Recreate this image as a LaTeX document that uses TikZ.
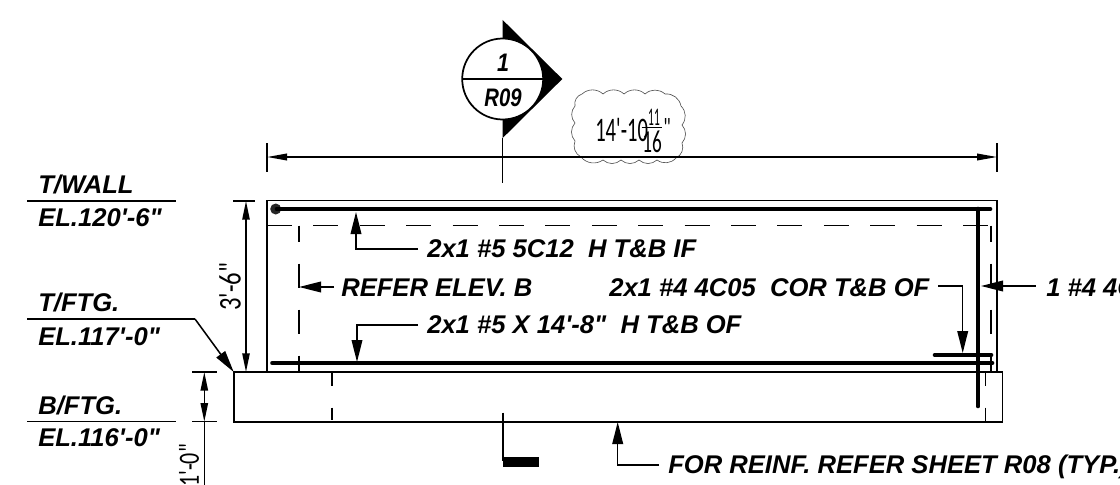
\documentclass[tikz,border=0pt]{standalone}
\usepackage{graphicx}
\usepackage{fontspec}
\setmainfont[Ligatures=TeXOff]{Liberation Sans}
\newfontfamily\thinfont[Ligatures=TeXOff]{Carlito}
\usetikzlibrary{arrows.meta}
\newcommand{\thintext}[3]{\scalebox{#2}[1]{\fontsize{#1}{#1}\selectfont #3}}
\tikzset{
 lab/.style={font=\fontsize{19.2pt}{22pt}\selectfont\bfseries\itshape,anchor=base west,inner sep=0pt,text=black},
 seclab/.style={font=\fontsize{19pt}{20pt}\selectfont\bfseries\itshape,anchor=base,inner sep=0pt,text=black},
 thinlab/.style={font=\thinfont,inner sep=0pt,text=black},
 ln/.style={line width=1.15pt,black},
 thn/.style={line width=1pt,black},
 bar/.style={line width=3.5pt,line cap=round,black},
 dshh/.style={line width=1pt,dash pattern=on 18.8pt off 16pt,black},
 dshv/.style={line width=1pt,dash pattern=on 18pt off 16.5pt,dash phase=6pt,black},
 lead/.style={ln,-{Triangle[length=16.5pt,width=8pt]}},
 smalltip/.style={ln,{Triangle[length=14pt,width=5.5pt]}-{Triangle[length=14pt,width=5.5pt]}},
 cloudline/.style={line width=0.45pt,black!70},
}
\begin{document}
\begin{tikzpicture}[x=0.75pt,y=-0.75pt]
\useasboundingbox (0,0) rectangle (1120,485);
\clip (0,0) rectangle (1120,485);
\fill[white] (0,0) rectangle (1120,485);
% named points
\coordinate (wallTL) at (267,200.7); \coordinate (wallBR) at (997,372);
\coordinate (ftgTL) at (233.7,372); \coordinate (ftgBR) at (1002.3,421.7);
% section marker
\coordinate (secC) at (502.7,79);
\coordinate (secTop) at (502.7,20); \coordinate (secTip) at (562.3,79); \coordinate (secBot) at (502.7,138);
\coordinate (secEnd) at (502.7,183);
\fill[black] (secTop) -- (secTip) -- (secBot) -- cycle;
\draw[ln] (secBot) -- (secEnd);
\draw[line width=1.3pt,fill=white] (secC) circle[radius=40.5];
\draw[line width=1.2pt] (462.2,79) -- (543.2,79);
\node[seclab] (secN) at (503,71.7) {\scalebox{.85}[1]{1}};
\node[seclab] (secS) at (503,106.7) {\scalebox{.8}[1]{R09}};
% cloud
\draw[cloudline] (582,94)
 to[bend left=42] (603,94) to[bend left=42] (624,94) to[bend left=42] (645,94) to[bend left=42] (665,94) to[bend left=42] (681,106)
 to[bend left=42] (682,125) to[bend left=42] (682,143) to[bend left=42] (676,158)
 to[bend left=42] (657,160) to[bend left=42] (639,160) to[bend left=42] (621,160) to[bend left=42] (603,160) to[bend left=42] (581,157)
 to[bend left=42] (575,141) to[bend left=42] (575,123) to[bend left=42] (575,106) to[bend left=42] (582,94);
\node[thinlab,anchor=base west] (dimA) at (595,141.7) {\thintext{25.8pt}{.6}{14'-10}};
\node[thinlab,anchor=base] (dimB) at (654,125.5) {\thintext{19pt}{.45}{11}};
\node[thinlab,anchor=base] (dimC) at (652,152.5) {\thintext{24pt}{.6}{16}};
\draw[thn] (641.7,127.5) -- (661.7,127.5);
\node[thinlab,anchor=base west] (dimD) at (663,136) {\thintext{20pt}{.7}{"}};
% overall dim
\coordinate (dL) at (267,157); \coordinate (dR) at (997,157);
\draw[ln,{Triangle[length=15pt,width=5pt]}-{Triangle[length=15pt,width=5pt]}] (dL) -- (dR);
\draw[thn] (267,143) -- (267,172);
\draw[thn] (997,143) -- (997,172);
% wall and footing
\draw[line width=1.1pt] (wallTL) rectangle (wallBR);
\draw[line width=1.2pt] (ftgTL) rectangle (ftgBR);
% dashed hidden lines
\draw[dshh] (267,225.5) -- (991,225.5);
\draw[dshv] (299,225.5) -- (299,372);
\draw[dshv] (991,225.5) -- (991,372);
\draw[line width=1pt,dash pattern=on 9.5pt off 16.5pt on 9.5pt off 20pt] (332,373) -- (332,422);
\draw[line width=1pt,dash pattern=on 10pt off 16pt on 10pt off 20pt] (985.7,373) -- (985.7,422);
% bars
\fill[black!85] (275.7,209) circle[radius=5.5];
\draw[bar] (277,209) -- (990,209);
\draw[bar] (272.5,363) -- (992,363);
\draw[bar] (935,355) -- (991,355);
\draw[bar] (978,209) -- (978,406);
% elevations
\node[lab] (tw) at (38,193) {T/WALL};
\node[lab] (el1) at (38,226.7) {EL.120'-6"};
\node[lab] (tf) at (38,311.7) {T/FTG.};
\node[lab] (el2) at (38,345) {EL.117'-0"};
\node[lab] (bf) at (38,414) {B/FTG.};
\node[lab] (el3) at (38,446.7) {EL.116'-0"};
\draw[ln] (27,201) -- (176,201);
\draw[ln] (27,421.7) -- (176,421.7);
\coordinate (tfs) at (27,319); \coordinate (tfk) at (195,319);
\draw[ln] (tfs) -- (tfk);
\draw[lead] (tfk) -- (ftgTL);
% height dims
\draw[ln] (233,201) -- (255,201);
\draw[ln] (234,372) -- (255,372);
\coordinate (h1) at (246,201); \coordinate (h2) at (246,372);
\draw[smalltip] (h1) -- (h2);
\node[thinlab,rotate=90] (h36) at (230,287) {\thintext{23.7pt}{.78}{3'-6"}};
\draw[ln] (192,372) -- (217,372);
\draw[ln] (192,421.7) -- (217,421.7);
\coordinate (f1) at (204.3,372); \coordinate (f2) at (204.3,421.7); \coordinate (f3) at (204.3,490);
\draw[smalltip] (f1) -- (f2);
\draw[ln] (f2) -- (f3);
\node[thinlab,rotate=90] (h10) at (189,465.5) {\thintext{22pt}{.75}{1'-0"}};
% labels
\node[lab] (l1) at (427,257) {2x1 \#5 5C12\ \ H T\&B IF};
\node[lab] (l2) at (341,296) {REFER ELEV. B};
\node[lab] (l3) at (609,296) {2x1 \#4 4C05\ \ COR T\&B OF};
\node[lab] (l4) at (1046,296) {1 \#4 4C};
\node[lab] (l5) at (427,333.5) {2x1 \#5 X 14'-8"\ \ H T\&B OF};
\node[lab] (l6) at (668,473) {FOR REINF. REFER SHEET R08 (TYP.)};
% leaders
\coordinate (a1s) at (418,249); \coordinate (a1k) at (356,249); \coordinate (a1t) at (356,212);
\draw[lead] (a1s) -- (a1k) -- (a1t);
\coordinate (a2s) at (334,287); \coordinate (a2t) at (299,287);
\draw[lead] (a2s) -- (a2t);
\coordinate (a3s) at (418,325); \coordinate (a3k) at (357,325); \coordinate (a3t) at (357,362);
\draw[lead] (a3s) -- (a3k) -- (a3t);
\coordinate (a4s) at (938,286); \coordinate (a4k) at (962.7,286); \coordinate (a4t) at (962.7,353);
\draw[lead] (a4s) -- (a4k) -- (a4t);
\coordinate (a5s) at (1035.7,286); \coordinate (a5t) at (981,286);
\draw[lead] (a5s) -- (a5t);
\coordinate (a6s) at (659,465); \coordinate (a6k) at (617.7,465); \coordinate (a6t) at (617.7,422);
\draw[lead] (a6s) -- (a6k) -- (a6t);
% section mark below footing
\coordinate (b1) at (503,412.7); \coordinate (b2) at (503,461);
\draw[line width=1.3pt] (b1) -- (b2);
\fill[black] (503,456.7) rectangle (539,466.7);
\end{tikzpicture}
\end{document}
